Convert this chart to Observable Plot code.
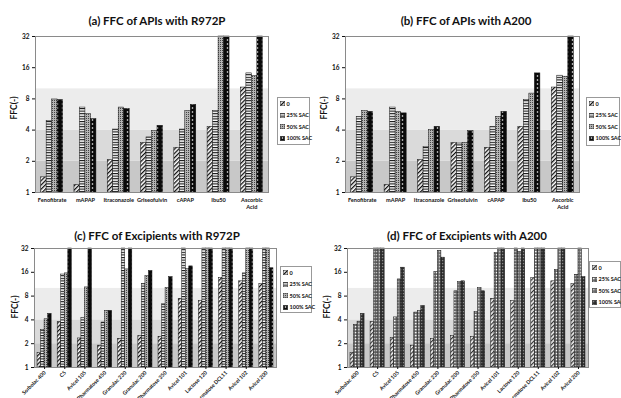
<!DOCTYPE html>
<html><head><meta charset="utf-8">
<script src="https://cdn.jsdelivr.net/npm/d3@7"></script>
<script src="https://cdn.jsdelivr.net/npm/@observablehq/plot@0.6"></script>
<style>
body{margin:0;background:#fff;font-family:Lato,"Open Sans",sans-serif;}
#root{position:relative;width:621px;height:398px;overflow:hidden;background:#fff;}
.title{position:absolute;font-weight:bold;font-size:11.5px;white-space:nowrap;transform:translate(-50%,-50%);color:#111;}
.ylab{position:absolute;font-weight:bold;font-size:8.5px;white-space:nowrap;transform:translate(-50%,-50%) rotate(-90deg);color:#111;}
.legend{position:absolute;border:1px solid #999;background:#fff;box-sizing:border-box;padding:0 0 0 2px;}
.legend div{display:flex;align-items:center;font-weight:bold;font-size:5.5px;white-space:nowrap;height:11.5px;color:#111;}
.legend svg{margin-right:1.5px;flex-shrink:0;}
</style></head>
<body>
<svg width="0" height="0" style="position:absolute">
<defs>
<pattern id="pDiag" patternUnits="userSpaceOnUse" width="3" height="3" patternTransform="rotate(45)">
  <rect width="3" height="3" fill="#fff"/><rect width="1.3" height="3" fill="#111"/>
</pattern>
<pattern id="pHoriz" patternUnits="userSpaceOnUse" width="3" height="2.6">
  <rect width="3" height="2.6" fill="#fff"/><rect width="3" height="1.1" fill="#111"/>
</pattern>
<pattern id="pDots" patternUnits="userSpaceOnUse" width="2" height="2">
  <rect width="2" height="2" fill="#b4b4b4"/><rect width="1" height="1" fill="#444"/>
</pattern>
<pattern id="pBlack" patternUnits="userSpaceOnUse" width="5" height="4">
  <rect width="5" height="4" fill="#0a0a0a"/><circle cx="2.5" cy="2" r="0.8" fill="#fff"/>
</pattern>
<pattern id="pDiagD" patternUnits="userSpaceOnUse" width="3" height="3" patternTransform="rotate(45)">
  <rect width="3" height="3" fill="#eee"/><rect width="1.2" height="3" fill="#333"/>
</pattern>
<pattern id="pGridW" patternUnits="userSpaceOnUse" width="3" height="3">
  <rect width="3" height="3" fill="#555"/><rect x="0.8" y="0.8" width="1.8" height="1.6" fill="#f4f4f4"/>
</pattern>
<pattern id="pGridG" patternUnits="userSpaceOnUse" width="3" height="3">
  <rect width="3" height="3" fill="#666"/><rect x="0.8" y="0.8" width="1.8" height="1.6" fill="#c4c4c4"/>
</pattern>
<pattern id="pGridK" patternUnits="userSpaceOnUse" width="3" height="3">
  <rect width="3" height="3" fill="#2a2a2a"/><rect x="0.9" y="0.9" width="1.4" height="1.4" fill="#8a8a8a"/>
</pattern>
</defs>
</svg>
<div id="root"></div>
<script>
// ---------- data ----------
const series = ["0", "25% SAC", "50% SAC", "100% SAC"];
const apis = ["Fenofibrate", "mAPAP", "Itraconazole", "Griseofulvin", "cAPAP", "Ibu50", "Ascorbic\nAcid"];
const excipients = ["Sorbolac 400", "C5", "Avicel 105", "Pharmatose 450", "Granulac 230", "Granulac 200",
  "Pharmatose 350", "Avicel 101", "Lactose 120", "Pharmatose DCL11", "Avicel 102", "Avicel 200"];
const yTicks = [1, 2, 4, 8, 16, 32];
const bandLo = [1, 2, 4];
const bandHi = [2, 4, 10];

// (a) APIs with R972P
const a_0   = [1.4, 1.18, 2.05, 3.0, 2.7, 4.3, 10.3];
const a_25  = [4.9, 6.6, 4.05, 3.4, 4.05, 6.1, 14.1];
const a_50  = [7.9, 5.7, 6.6, 3.9, 6.1, 32, 13.3];
const a_100 = [7.8, 5.1, 6.4, 4.4, 7.0, 32, 32];
// (b) APIs with A200
const b_0   = [1.4, 1.18, 2.05, 3.0, 2.7, 4.3, 10.3];
const b_25  = [5.35, 6.6, 2.76, 2.97, 4.3, 7.8, 13.4];
const b_50  = [6.1, 6.0, 4.0, 3.0, 5.35, 9.0, 13.1];
const b_100 = [6.0, 5.8, 4.3, 3.9, 6.0, 14.1, 32];
// (c) Excipients with R972P
const c_0   = [1.53, 3.76, 2.33, 1.89, 2.3, 2.5, 2.44, 7.4, 6.9, 13.6, 12.3, 11.4];
const c_25  = [2.97, 15.0, 4.2, 3.7, 32, 11.4, 6.3, 32, 32, 32, 15.5, 32];
const c_50  = [4.07, 15.5, 10.3, 5.2, 17.4, 14.3, 10.1, 17.5, 32, 32, 32, 32];
const c_100 = [4.76, 32, 32, 5.2, 32, 16.6, 13.9, 19, 32, 32, 32, 18];
// (d) Excipients with A200
const d_0   = [1.53, 3.76, 2.37, 1.89, 2.3, 2.5, 2.44, 7.4, 6.9, 13.6, 12.3, 11.4];
const d_25  = [3.44, 32, 4.3, 4.95, 16.1, 9.2, 5.05, 27.9, 32, 32, 17.1, 14.9];
const d_50  = [3.8, 32, 13.0, 5.15, 29.9, 12.0, 10.1, 32, 29, 32, 32, 32];
const d_100 = [4.76, 32, 18.3, 6.0, 24.5, 12.3, 9.2, 32, 32, 32, 32, 13.9];

// ---------- styles ----------
const bandFills = ["#c8c8c8", "#dadada", "#ececec"];
const patsABC = ["url(#pDiag)", "url(#pHoriz)", "url(#pDots)", "url(#pBlack)"];
const patsD = ["url(#pDiagD)", "url(#pGridW)", "url(#pGridG)", "url(#pGridK)"];

const root = document.getElementById("root");

function panel(cats, vals, pats, o) {
  const w = o.barW;
  const marks = bandLo.map((lo, k) =>
    Plot.rect([{lo, hi: bandHi[k]}], {y1: "lo", y2: "hi", fill: bandFills[k]}));
  vals.forEach((arr, s) => {
    const rows = arr.map((v, i) => ({i, v}));
    marks.push(Plot.rect(rows, {
      x1: d => d.i + (s - 2) * w, x2: d => d.i + (s - 1) * w,
      y1: () => 1, y2: "v",
      fill: pats[s], stroke: "#111", strokeWidth: 0.5
    }));
  });
  marks.push(Plot.frame({stroke: "#8a8a8a", strokeWidth: 1}));
  marks.push(Plot.axisY({ticks: yTicks, tickFormat: d => String(d), tickSize: 3, tickPadding: 3,
    fontSize: 6.5, fontWeight: "bold", label: null}));
  marks.push(Plot.axisX({ticks: d3.range(cats.length), tickFormat: i => cats[i],
    tickSize: o.rot ? 2 : 0, tickPadding: o.rot ? 2 : 4, tickRotate: o.rot ? -45 : 0,
    fontSize: o.rot ? 5.3 : 5.6, fontWeight: "bold", lineHeight: 1.35, label: null}));
  const svg = Plot.plot({
    width: o.width, height: o.height,
    marginLeft: o.ml, marginRight: o.mr, marginTop: o.mt, marginBottom: o.mb,
    style: {fontFamily: "Lato, 'Open Sans', sans-serif", color: "#111", background: "transparent", overflow: "visible"},
    x: {domain: [-0.5, cats.length - 0.5]},
    y: {type: "log", base: 2, domain: [1, 32]},
    marks
  });
  svg.style.position = "absolute";
  svg.style.left = o.left + "px";
  svg.style.top = o.top + "px";
  root.appendChild(svg);
}

function text(cls, str, x, y) {
  const d = document.createElement("div");
  d.className = cls; d.textContent = str;
  d.style.left = x + "px"; d.style.top = y + "px";
  root.appendChild(d);
}

function legend(pats, x, y, w, h) {
  const L = document.createElement("div");
  L.className = "legend";
  L.style.left = x + "px"; L.style.top = y + "px";
  L.style.width = w + "px"; L.style.height = h + "px";
  series.forEach((s, k) => {
    const row = document.createElement("div");
    row.innerHTML = `<svg width="5" height="5"><rect x="0.25" y="0.25" width="4.5" height="4.5" fill="${pats[k]}" stroke="#333" stroke-width="0.5"/></svg>${s}`;
    L.appendChild(row);
  });
  root.appendChild(L);
}

panel(apis, [a_0, a_25, a_50, a_100], patsABC,
  {left: 0, top: 30, width: 275, height: 188, ml: 35, mr: 7, mt: 6, mb: 26, barW: 0.165});
panel(apis, [b_0, b_25, b_50, b_100], patsABC,
  {left: 310, top: 30, width: 275, height: 188, ml: 35, mr: 6, mt: 6, mb: 26, barW: 0.165});
panel(excipients, [c_0, c_25, c_50, c_100], patsABC,
  {left: 0, top: 244, width: 280, height: 154, ml: 34, mr: 4, mt: 4, mb: 31, barW: 0.175, rot: true});
panel(excipients, [d_0, d_25, d_50, d_100], patsD,
  {left: 312, top: 244, width: 280, height: 154, ml: 35, mr: 4, mt: 4, mb: 31, barW: 0.175, rot: true});

text("title", "(a) FFC of APIs with R972P", 157, 20);
text("title", "(b) FFC of APIs with A200", 466, 20);
text("title", "(c) FFC of Excipients with R972P", 157, 235);
text("title", "(d) FFC of Excipients with A200", 467, 235);
text("ylab", "FFC(-)", 14, 108);
text("ylab", "FFC(-)", 324, 108);
text("ylab", "FFC(-)", 15, 307);
text("ylab", "FFC(-)", 327, 307);

legend(patsABC, 277, 97, 33, 48);
legend(patsABC, 586, 97, 34, 49);
legend(patsABC, 280, 266, 32, 47);
legend(patsD, 589, 261, 32, 47);
</script>
</body></html>
